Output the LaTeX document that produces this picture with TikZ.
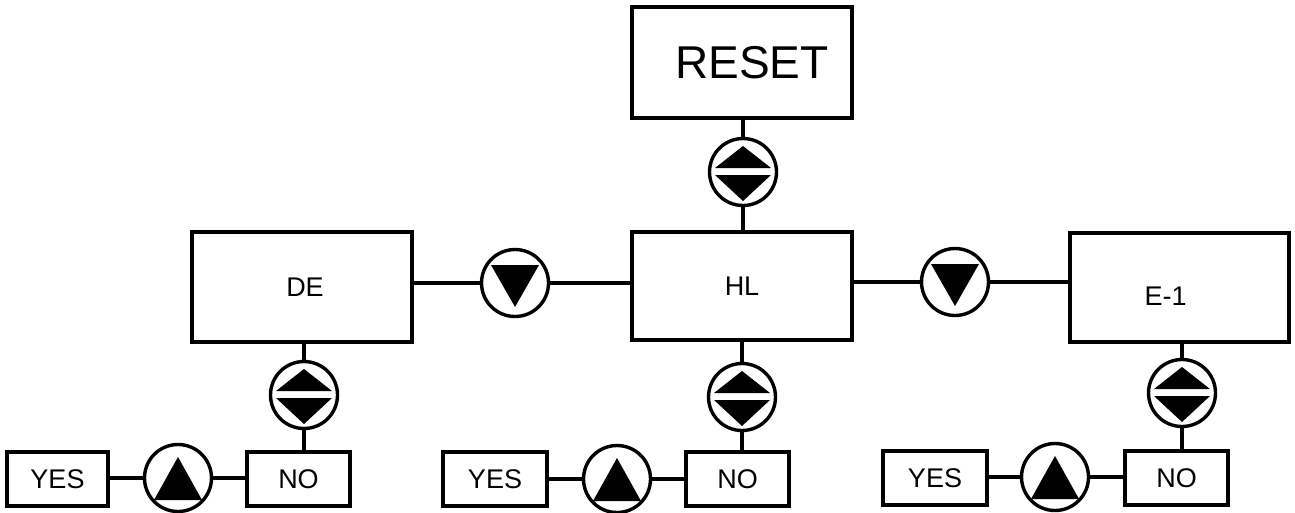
\documentclass[tikz,border=0pt]{standalone}
\usepackage{fontspec}
\setmainfont{Liberation Sans}
\begin{document}
\begin{tikzpicture}[x=1pt,y=1pt,
  box/.style={draw,line width=3.2pt,inner sep=0pt},
  btn/.style={draw,circle,line width=3.4pt,minimum size=67pt,inner sep=0pt},
  wire/.style={line width=3.2pt},
  btndown/.style={btn,path picture={\fill ([shift={(-24pt,18pt)}]path picture bounding box.center) -- ++(48pt,0) -- ++(-24pt,-42pt) -- cycle;}},
  btnup/.style={btn,path picture={\fill ([shift={(-24pt,-22pt)}]path picture bounding box.center) -- ++(48pt,0) -- ++(-24pt,43pt) -- cycle;}},
  btnboth/.style={btn,path picture={
    \fill ([shift={(-28pt,4pt)}]path picture bounding box.center) -- ++(56pt,0) -- ++(-28pt,22pt) -- cycle;
    \fill ([shift={(-28pt,-3pt)}]path picture bounding box.center) -- ++(56pt,0) -- ++(-28pt,-26pt) -- cycle;
  }},
  small/.style={font=\fontsize{27}{30}\selectfont},
]
\useasboundingbox (0,0) rectangle (1295,-512);
% main boxes
\node[box,minimum width=220pt,minimum height=111pt,font=\fontsize{46}{50}\selectfont] (reset) at (742,-62.5) {\hspace*{20pt}RESET};
\node[box,minimum width=220pt,minimum height=108pt,small] (hl) at (742,-286) {HL};
\node[box,minimum width=220pt,minimum height=110pt,small] (de) at (302,-287) {\hspace*{6pt}DE};
\node[box,minimum width=219pt,minimum height=109pt,label={[small,xshift=-14pt,yshift=-9pt]center:E-1}] (e1) at (1179.5,-287.5) {};
% bottom boxes
\node[box,minimum width=101pt,minimum height=54pt,small] (yes1) at (57.5,-479) {YES};
\node[box,minimum width=103pt,minimum height=54pt,small] (no1) at (298.5,-479) {NO};
\node[box,minimum width=104pt,minimum height=54pt,small] (yes2) at (495,-479) {YES};
\node[box,minimum width=103pt,minimum height=54pt,small] (no2) at (737.5,-479) {NO};
\node[box,minimum width=104pt,minimum height=54pt,small] (yes3) at (935,-478) {YES};
\node[box,minimum width=103pt,minimum height=54pt,small] (no3) at (1176.5,-478) {NO};
% buttons
\node[btnboth] (bt) at (743,-172) {};
\node[btndown] (bd1) at (515,-283) {};
\node[btndown] (bd2) at (955,-282) {};
\node[btnboth] (bb1) at (304,-395) {};
\node[btnboth] (bb2) at (742,-397) {};
\node[btnboth] (bb3) at (1182,-393) {};
\node[btnup] (bu1) at (178,-478) {};
\node[btnup] (bu2) at (617,-479) {};
\node[btnup] (bu3) at (1055,-477) {};
% wires
\draw[wire] (bt.north) -- (bt.north |- reset.south);
\draw[wire] (bt.south) -- (bt.south |- hl.north);
\draw[wire] (bd1.west) -- (bd1.west -| de.east);
\draw[wire] (bd1.east) -- (bd1.east -| hl.west);
\draw[wire] (bd2.west) -- (bd2.west -| hl.east);
\draw[wire] (bd2.east) -- (bd2.east -| e1.west);
\draw[wire] (bb1.north) -- (bb1.north |- de.south);
\draw[wire] (bb1.south) -- (bb1.south |- no1.north);
\draw[wire] (bb2.north) -- (bb2.north |- hl.south);
\draw[wire] (bb2.south) -- (bb2.south |- no2.north);
\draw[wire] (bb3.north) -- (bb3.north |- e1.south);
\draw[wire] (bb3.south) -- (bb3.south |- no3.north);
\draw[wire] (bu1.west) -- (bu1.west -| yes1.east);
\draw[wire] (bu1.east) -- (bu1.east -| no1.west);
\draw[wire] (bu2.west) -- (bu2.west -| yes2.east);
\draw[wire] (bu2.east) -- (bu2.east -| no2.west);
\draw[wire] (bu3.west) -- (bu3.west -| yes3.east);
\draw[wire] (bu3.east) -- (bu3.east -| no3.west);
\end{tikzpicture}
\end{document}
